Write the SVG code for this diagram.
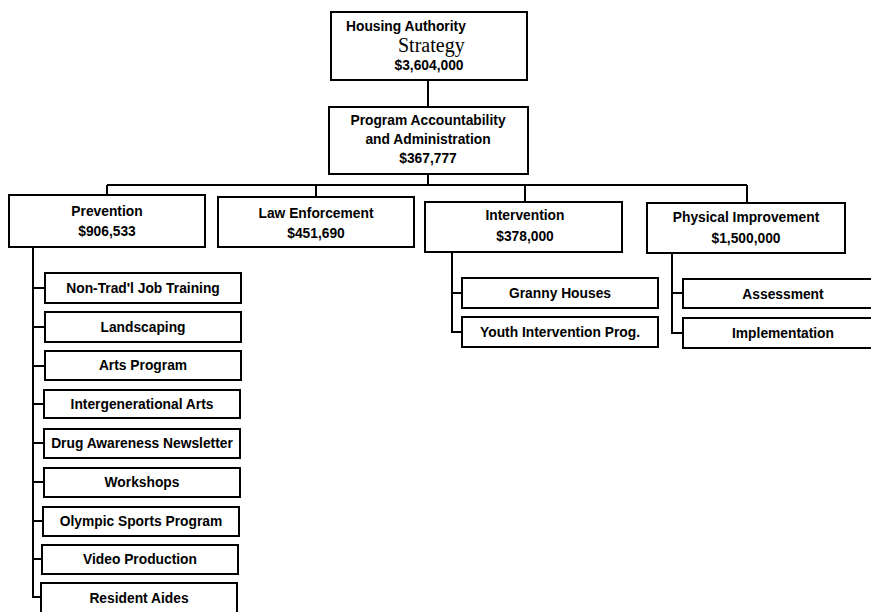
<svg xmlns="http://www.w3.org/2000/svg" width="871" height="612" viewBox="0 0 871 612">
<style>
rect{fill:#fff;stroke:#000;stroke-width:2}
.c{fill:none;stroke:#000;stroke-width:2}
text{font-family:"Liberation Sans",Arial,sans-serif;font-weight:bold;font-size:13.8px;fill:#000;text-anchor:middle}
.s{font-family:"Liberation Serif","Times New Roman",serif;font-weight:normal;font-size:20px;text-anchor:start}
.l{text-anchor:start}
</style>
<rect x="0" y="0" width="871" height="612" style="stroke:none"/>
<g id="connectors">
<path class="c" d="M428 80V107"/>
<path class="c" d="M428 174V185M107 185H747M107 185V195M316 185V197M525 185V202M747 185V203"/>
<path class="c" d="M33 247V597H43M33 288H45M33 327H45M33 366H45M33 404H44M33 443H44M33 482H44M33 521H43M33 559H42"/>
<path class="c" d="M452 252V332H462M452 293H462"/>
<path class="c" d="M672 253V333H683M672 293H683"/>
</g>
<g id="n-housing"><rect x="331" y="12" width="196" height="68"/><text class="l" x="346" y="31">Housing Authority</text><text class="s" x="398" y="52">Strategy</text><text x="429" y="70">$3,604,000</text></g>
<g id="n-program"><rect x="329" y="107" width="199" height="67"/><text x="428" y="125">Program Accountability</text><text x="428" y="144">and Administration</text><text x="428" y="163">$367,777</text></g>
<g id="n-prevention"><rect x="9" y="195" width="196" height="52"/><text x="107" y="216">Prevention</text><text x="107" y="236">$906,533</text></g>
<g id="n-law"><rect x="218" y="197" width="196" height="50"/><text x="316" y="218">Law Enforcement</text><text x="316" y="238">$451,690</text></g>
<g id="n-intervention"><rect x="425" y="202" width="197" height="50"/><text x="525" y="220">Intervention</text><text x="525" y="241">$378,000</text></g>
<g id="n-physical"><rect x="647" y="203" width="198" height="50"/><text x="746" y="222">Physical Improvement</text><text x="746" y="243">$1,500,000</text></g>
<g id="n-nontrad"><rect x="45" y="273" width="196" height="30"/><text x="143" y="293">Non-Trad'l Job Training</text></g>
<g id="n-landscaping"><rect x="45" y="312" width="196" height="30"/><text x="143" y="332">Landscaping</text></g>
<g id="n-arts"><rect x="45" y="351" width="196" height="29"/><text x="143" y="370">Arts Program</text></g>
<g id="n-intergen"><rect x="44" y="390" width="196" height="28"/><text x="142" y="409">Intergenerational Arts</text></g>
<g id="n-drug"><rect x="44" y="429" width="196" height="29"/><text x="142" y="448">Drug Awareness Newsletter</text></g>
<g id="n-workshops"><rect x="44" y="468" width="196" height="29"/><text x="142" y="487">Workshops</text></g>
<g id="n-olympic"><rect x="43" y="507" width="196" height="29"/><text x="141" y="526">Olympic Sports Program</text></g>
<g id="n-video"><rect x="42" y="545" width="196" height="29"/><text x="140" y="564">Video Production</text></g>
<g id="n-resident"><rect x="41" y="583" width="196" height="40"/><text x="139" y="603">Resident Aides</text></g>
<g id="n-granny"><rect x="462" y="278" width="196" height="30"/><text x="560" y="298">Granny Houses</text></g>
<g id="n-youth"><rect x="462" y="317" width="196" height="30"/><text x="560" y="337">Youth Intervention Prog.</text></g>
<g id="n-assessment"><rect x="683" y="279" width="200" height="29"/><text x="783" y="299">Assessment</text></g>
<g id="n-implementation"><rect x="683" y="318" width="200" height="30"/><text x="783" y="338">Implementation</text></g>
</svg>
